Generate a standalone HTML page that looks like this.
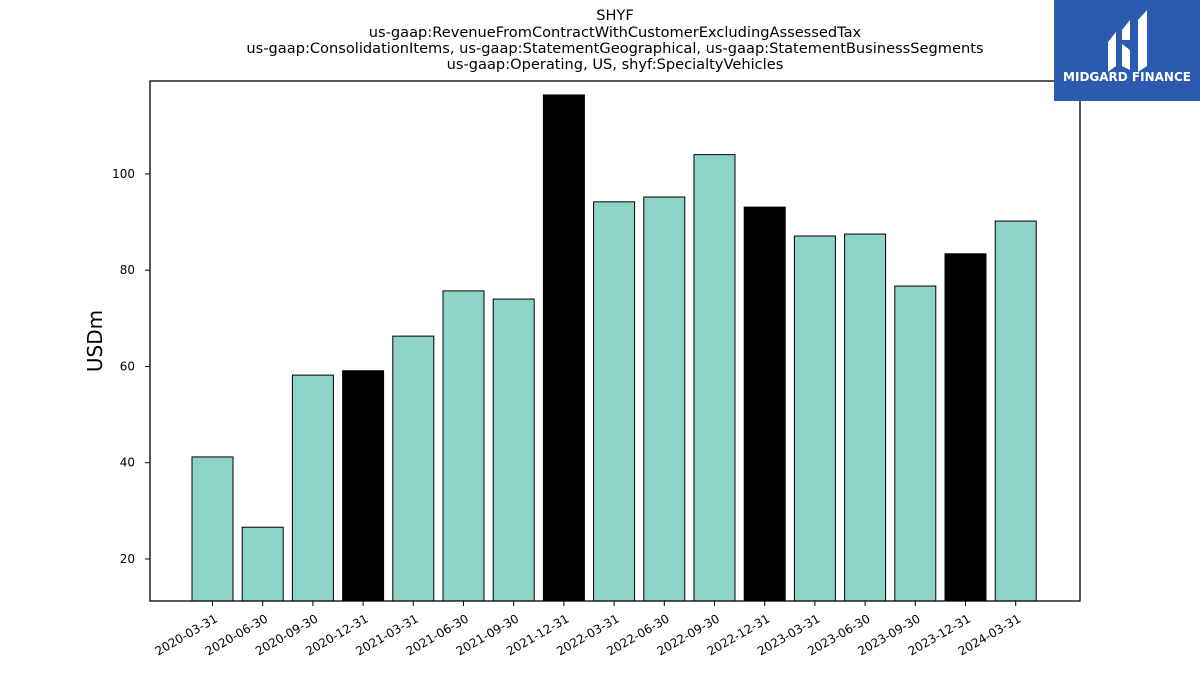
<!DOCTYPE html>
<html><head><meta charset="utf-8"><style>
body{margin:0;background:#fff;}
svg text{font-family:"DejaVu Sans","Liberation Sans",sans-serif;}
</style></head><body>
<svg id="chart" width="1200" height="675" viewBox="0 0 1200 675" xmlns="http://www.w3.org/2000/svg">
<rect width="1200" height="675" fill="#fff"/>
<g font-size="14.6" text-anchor="middle" fill="#000">
<text x="615" y="20">SHYF</text>
<text x="615" y="37">us-gaap:RevenueFromContractWithCustomerExcludingAssessedTax</text>
<text x="615" y="53">us-gaap:ConsolidationItems, us-gaap:StatementGeographical, us-gaap:StatementBusinessSegments</text>
<text x="615" y="69">us-gaap:Operating, US, shyf:SpecialtyVehicles</text>
</g>
<g id="bars"></g>
<g id="xaxis"></g>
<g id="yaxis"></g>
<rect x="150" y="81" width="930" height="520" fill="none" stroke="#000" stroke-width="1.3"/>
<text x="102" y="341" font-size="20" text-anchor="middle" transform="rotate(-90 102 341)">USDm</text>
<g>
<rect x="1054" y="0" width="146" height="101" fill="#2b5bb0"/>
<path d="M1108 42 L1116 32 L1116 66 L1108 72 Z" fill="#fff"/>
<path d="M1122 30 L1130 20 L1130 40 L1122 40 Z" fill="#fff"/>
<path d="M1122 44 L1130 50 L1130 70 L1122 66 Z" fill="#fff"/>
<path d="M1138 20 L1147 10 L1147 66 L1138 72 Z" fill="#fff"/>
<text x="1127" y="81" font-size="12" font-weight="bold" fill="#fff" text-anchor="middle">MIDGARD FINANCE</text>
</g>
</svg>
<script>
const categories=["2020-03-31","2020-06-30","2020-09-30","2020-12-31","2021-03-31","2021-06-30","2021-09-30","2021-12-31","2022-03-31","2022-06-30","2022-09-30","2022-12-31","2023-03-31","2023-06-30","2023-09-30","2023-12-31","2024-03-31"];
const values=[41.2,26.6,58.2,59.1,66.3,75.7,74.0,116.4,94.2,95.2,104.0,93.1,87.1,87.5,76.7,83.4,90.2];
const yTicks=[20,40,60,80,100];
const NS="http://www.w3.org/2000/svg";
const yMin=11.27,yMax=119.3,plotTop=81,plotBot=601;
function y(v){return plotBot-(v-yMin)/(yMax-yMin)*(plotBot-plotTop);}
const step=50.2,x0=212.5,bw=41;
function x(i){return x0+i*step;}
function mk(t,a,p){const e=document.createElementNS(NS,t);for(const k in a)e.setAttribute(k,a[k]);p.appendChild(e);return e;}
const bars=document.getElementById('bars'),xa=document.getElementById('xaxis'),ya=document.getElementById('yaxis');
values.forEach((v,i)=>{
 const r=mk('rect',{x:x(i)-bw/2,y:y(v),width:bw,height:plotBot-y(v),fill:categories[i].endsWith('12-31')?'#000':'#8dd3c7',stroke:'#000','stroke-width':1},bars);
 
 
 const tk=mk('line',{x1:x(i),x2:x(i),y1:plotBot,y2:plotBot+5,stroke:'#000'},xa);
 
 
 const tx=mk('text',{x:x(i)+6,y:plotBot+20,'font-size':12,'text-anchor':'end',transform:`rotate(-30 ${x(i)+6} ${plotBot+20})`},xa);
 tx.textContent=categories[i];
 
 
});
yTicks.forEach(t=>{
 const tk=mk('line',{x1:145,x2:150,y1:y(t),y2:y(t),stroke:'#000'},ya);
 
 
 const tx=mk('text',{x:135,y:y(t)+4,'font-size':12,'text-anchor':'end'},ya);
 tx.textContent=t;
 
 
});
</script>
</body></html>
